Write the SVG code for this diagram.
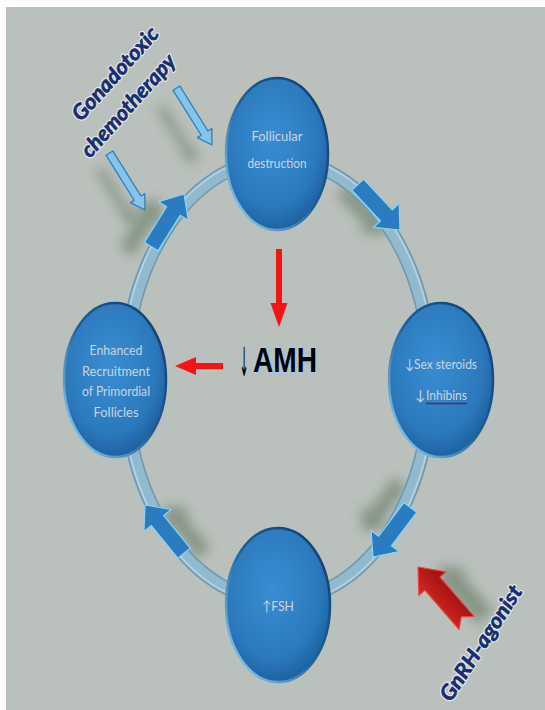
<svg xmlns="http://www.w3.org/2000/svg" width="545" height="710" viewBox="0 0 545 710">
<defs>
<style>
.nt{font-family:Lato,'Open Sans','Liberation Sans',sans-serif;font-size:14px;fill:#c9d5de;text-anchor:middle}
.ns{font-family:Lato,'Open Sans','DejaVu Sans',sans-serif;font-size:14px;fill:#c9d5de}
.lab{font-family:Lato,'Liberation Sans',sans-serif;font-size:21px;font-weight:700;font-style:italic;text-anchor:middle;stroke-linejoin:round}
.halo{fill:#1b2d6b;stroke:#e3e9ec;stroke-width:3}
.ink{fill:#1b2d6b;stroke:#1b2d6b;stroke-width:0.7}
.node{fill:url(#ng);stroke:url(#rim);stroke-width:2.5}
.ra{fill:#2a7bc0;stroke:#8ad4f4;stroke-width:1.2;stroke-linejoin:round}
.ha{fill:#86c4ea;stroke:#2b7fc0;stroke-width:1.3;stroke-linejoin:round}
.sh{fill:#45603f;opacity:.45;filter:url(#blur)}
.red{fill:#f41414}
</style>
<radialGradient id="ng" cx="45%" cy="40%" r="60%">
<stop offset="0" stop-color="#3a8dd2"/><stop offset=".75" stop-color="#2b79bd"/><stop offset="1" stop-color="#1e62a0"/>
</radialGradient>
<linearGradient id="rim" x1="1" y1="0" x2="0" y2="1">
<stop offset="0" stop-color="#0e3a66"/><stop offset=".5" stop-color="#1d5f99"/><stop offset="1" stop-color="#9bdcf8"/>
</linearGradient>
<linearGradient id="redg" x1="0" y1="0" x2="0" y2="1">
<stop offset="0" stop-color="#d42a22"/><stop offset="1" stop-color="#9a0d0d"/>
</linearGradient>
<filter id="blur" x="-50%" y="-50%" width="200%" height="200%"><feGaussianBlur stdDeviation="6"/></filter>
<polygon id="ringArrow" points="0,0 -20,-17.5 -20,-8 -62,-8 -62,8 -20,8 -20,17.5"/>
<polygon id="hollowArrow" points="0,0 -14,-8.5 -14,-4 -67,-4 -67,4 -14,4 -14,8.5"/>
<polygon id="gnArrow" points="0,0 -22,-18 -22,-10 -74,-10 -66,0 -74,10 -22,10 -22,18"/>
</defs>
<rect width="545" height="710" fill="#ffffff"/>
<rect x="6" y="7" width="539" height="703" fill="#bac0bc"/>
<g id="shadows">
<use href="#hollowArrow" class="sh" transform="translate(196,164) rotate(58)"/>
<use href="#hollowArrow" class="sh" transform="translate(135,226) rotate(58)"/>
<use href="#ringArrow" class="sh" transform="translate(159,199) rotate(-58)"/>
<use href="#ringArrow" class="sh" transform="translate(385,235) rotate(47)"/>
<use href="#ringArrow" class="sh" transform="translate(363,532) rotate(127)"/>
<use href="#ringArrow" class="sh" transform="translate(165,505) rotate(-129)"/>
<use href="#gnArrow" class="sh" transform="translate(440,565) rotate(-131)"/>
</g>
<g id="connectors">
<ellipse cx="278" cy="380" rx="153" ry="221" fill="none" stroke="#6e98b0" stroke-width="14"/>
<ellipse cx="278" cy="380" rx="153" ry="221" fill="none" stroke="#92bacf" stroke-width="11"/>
<ellipse cx="278" cy="380" rx="157" ry="225" fill="none" stroke="#c2dbe6" stroke-width="1.5" opacity=".8"/>
<use href="#ringArrow" class="ra" transform="translate(184,194) rotate(-58)"/>
<use href="#ringArrow" class="ra" transform="translate(400,230) rotate(47)"/>
<use href="#ringArrow" class="ra" transform="translate(373,557) rotate(127)"/>
<use href="#ringArrow" class="ra" transform="translate(145,505) rotate(-129)"/>
<use href="#hollowArrow" class="ha" transform="translate(212,145) rotate(58)"/>
<use href="#hollowArrow" class="ha" transform="translate(145,210) rotate(58)"/>
<use href="#gnArrow" fill="url(#redg)" stroke="#e24a40" stroke-width="1.2" stroke-linejoin="round" transform="translate(418,567) rotate(-131)"/>
<polygon class="red" points="276,249 282,249 282,303 287.5,303 279,327 270.5,303 276,303"/>
<polygon class="red" points="223,363 223,369 196,369 196,375 175,366 196,357 196,363"/>
</g>
<g id="node-follicular">
<ellipse class="node" cx="277" cy="154" rx="51" ry="76"/>
<text class="nt" x="277" y="141" textLength="51" lengthAdjust="spacingAndGlyphs">Follicular</text>
<text class="nt" x="277" y="168" textLength="59" lengthAdjust="spacingAndGlyphs">destruction</text>
</g>
<g id="node-recruitment">
<ellipse class="node" cx="115" cy="380" rx="51" ry="77"/>
<text class="nt" x="116" y="355" textLength="53" lengthAdjust="spacingAndGlyphs">Enhanced</text>
<text class="nt" x="116" y="376" textLength="68" lengthAdjust="spacingAndGlyphs">Recruitment</text>
<text class="nt" x="116" y="396" textLength="68" lengthAdjust="spacingAndGlyphs">of Primordial</text>
<text class="nt" x="116" y="417" textLength="45" lengthAdjust="spacingAndGlyphs">Follicles</text>
</g>
<g id="node-steroids">
<ellipse class="node" cx="441" cy="380" rx="52" ry="77"/>
<text class="ns" x="405" y="369" textLength="72" lengthAdjust="spacingAndGlyphs">↓Sex steroids</text>
<text class="ns" x="415" y="400">↓</text>
<text class="ns" x="426" y="400" textLength="41" lengthAdjust="spacingAndGlyphs">Inhibins</text>
<line x1="426" y1="403.5" x2="467" y2="403.5" stroke="#6a2748" stroke-width="1.3"/>
</g>
<g id="node-fsh">
<ellipse class="node" cx="278" cy="605" rx="52" ry="77"/>
<text class="ns" x="262" y="611" textLength="32" lengthAdjust="spacingAndGlyphs">↑FSH</text>
</g>
<g id="amh">
<text transform="translate(244,376) scale(0.26,1)" font-family="'DejaVu Sans',sans-serif" font-size="40" fill="#000" text-anchor="middle">↓</text>
<text x="253" y="372" font-family="'Liberation Sans',Arial,sans-serif" font-size="35" font-weight="700" fill="#000" stroke="#9cc8ee" stroke-width="2.5" paint-order="stroke" textLength="64" lengthAdjust="spacingAndGlyphs">AMH</text>
</g>
<g id="label-chemo" transform="translate(120.5,78.5) rotate(-48)">
<text class="lab halo" x="0" y="0" textLength="118" lengthAdjust="spacingAndGlyphs">Gonadotoxic</text>
<text class="lab halo" x="-15" y="31" textLength="130" lengthAdjust="spacingAndGlyphs">chemotherapy</text>
<text class="lab ink" x="0" y="0" textLength="118" lengthAdjust="spacingAndGlyphs">Gonadotoxic</text>
<text class="lab ink" x="-15" y="31" textLength="130" lengthAdjust="spacingAndGlyphs">chemotherapy</text>
</g>
<g id="label-gnrh" transform="translate(487,647) rotate(-57)">
<text class="lab halo" x="0" y="0" textLength="133" lengthAdjust="spacingAndGlyphs">GnRH-agonist</text>
<text class="lab ink" x="0" y="0" textLength="133" lengthAdjust="spacingAndGlyphs">GnRH-agonist</text>
</g>
</svg>
